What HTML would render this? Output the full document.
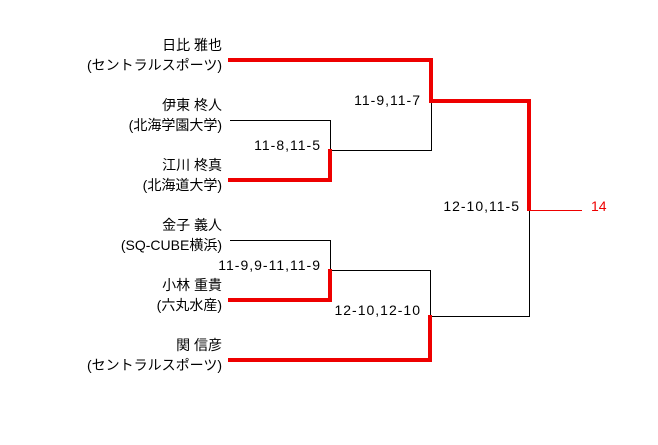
<!DOCTYPE html>
<html><head><meta charset="utf-8"><style>
body{margin:0;background:#fff;width:658px;height:440px;overflow:hidden;font-family:"Liberation Sans","Noto Sans CJK JP",sans-serif;}
svg text{font-family:"Liberation Sans","Noto Sans CJK JP",sans-serif;font-size:14px;fill:#000;}
.s{letter-spacing:1px;}
</style></head><body>
<svg width="658" height="440" xmlns="http://www.w3.org/2000/svg">
<g fill="none" stroke="#000" stroke-width="1">
<polyline points="230,120.5 330.5,120.5 330.5,150.5 431.5,150.5 431.5,101"/>
<polyline points="230,240.5 330.5,240.5 330.5,270.5 430.5,270.5 430.5,316.5 529.5,316.5 529.5,210"/>
</g>
<g fill="none" stroke="#e00" stroke-width="4">
<polyline points="228,60 431,60 431,101 529,101 529,211"/>
<polyline points="228,180 330,180 330,149"/>
<polyline points="228,300 330,300 330,269"/>
<polyline points="228,360 430,360 430,315"/>
</g>
<line x1="529" y1="210.5" x2="582" y2="210.5" stroke="#e00" stroke-width="1"/>
<g text-anchor="end">
<text x="222" y="50">日比 雅也</text><text x="222" y="70">(セントラルスポーツ)</text>
<text x="222" y="110">伊東 柊人</text><text x="222" y="130">(北海学園大学)</text>
<text x="222" y="170">江川 柊真</text><text x="222" y="190">(北海道大学)</text>
<text x="222" y="230">金子 義人</text><text x="222" y="250">(SQ-CUBE横浜)</text>
<text x="222" y="290">小林 重貴</text><text x="222" y="310">(六丸水産)</text>
<text x="222" y="350">関 信彦</text><text x="222" y="370">(セントラルスポーツ)</text>
<text class="s" x="421" y="105">11-9,11-7</text>
<text class="s" x="321" y="150">11-8,11-5</text>
<text class="s" x="520" y="211">12-10,11-5</text>
<text class="s" x="321" y="270">11-9,9-11,11-9</text>
<text class="s" x="421" y="315">12-10,12-10</text>
</g>
<text x="591" y="211" style="fill:#e00">14</text>
</svg>
</body></html>
